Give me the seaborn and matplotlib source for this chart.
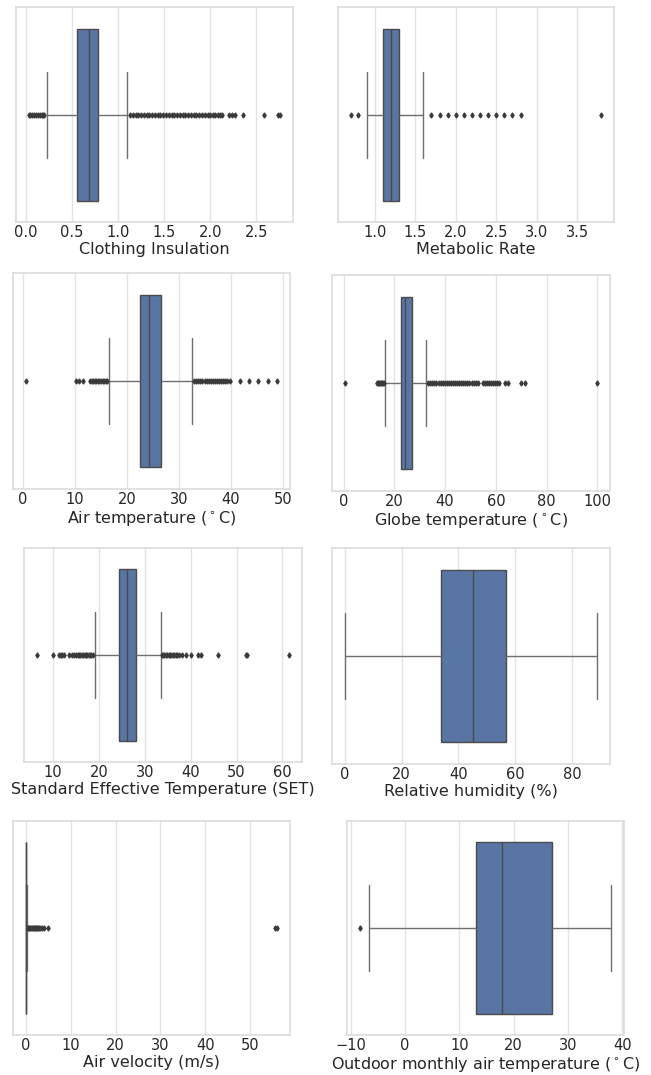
import numpy as np
import matplotlib
matplotlib.use("Agg")
import matplotlib.pyplot as plt
import matplotlib.ticker as ticker
import seaborn as sns

# box summary per variable: [whisker_lo, q1, median, q3, whisker_hi]
clo_box = [0.23, 0.55, 0.68, 0.78, 1.10]
clo_fliers = [0.03, 0.05, 0.07, 0.09, 0.11, 0.13, 0.15, 0.17, 0.19, 0.20,
              1.13, 1.16, 1.19, 1.22, 1.25, 1.28, 1.31, 1.34, 1.37, 1.40,
              1.43, 1.46, 1.49, 1.52, 1.55, 1.58, 1.61, 1.64, 1.67, 1.70,
              1.73, 1.76, 1.79, 1.82, 1.85, 1.88, 1.91, 1.94, 1.97, 2.00,
              2.03, 2.05, 2.08, 2.11, 2.13, 2.20, 2.24, 2.27, 2.35, 2.58,
              2.73, 2.76]

met_box = [0.90, 1.10, 1.20, 1.30, 1.598]
met_fliers = [0.70, 0.79, 1.70, 1.80, 1.90, 2.00, 2.10, 2.20, 2.30, 2.40,
              2.50, 2.60, 2.70, 2.80, 3.80]

ta_box = [16.5, 22.5, 24.3, 26.6, 32.5]
ta_fliers = [0.5, 10.1, 10.8, 11.6, 12.9, 13.2, 13.5, 13.8, 14.1, 14.4,
             14.7, 15.0, 15.3, 15.6, 15.9, 16.2,
             32.9, 33.3, 33.7, 34.1, 34.5, 34.9, 35.3, 35.7, 36.1, 36.5,
             36.9, 37.3, 37.7, 38.1, 38.5, 38.9, 39.3, 39.7,
             41.8, 43.4, 45.2, 47.1, 48.9]

tg_box = [16.4, 22.5, 24.3, 26.8, 32.6]
tg_fliers = [0.4, 13.2, 13.6, 14.0, 14.4, 14.8, 15.2, 15.6, 15.9,
             33.4, 34.2, 35.0, 35.8, 36.6, 37.4, 38.2, 39.0, 39.8, 40.6,
             41.4, 42.2, 43.0, 43.8, 44.6, 45.4, 46.2, 47.0, 47.8, 48.6,
             49.4, 50.5, 51.3, 52.0, 53.0, 55.0, 55.8, 56.6, 57.4, 58.2,
             59.0, 59.8, 60.6, 61.4, 63.5, 64.6, 70.0, 71.6, 100.0]

set_box = [19.1, 24.4, 26.2, 28.05, 33.5]
set_fliers = [6.45, 10.0, 11.4, 11.7, 12.0, 12.4, 13.5, 14.1, 14.6,
              15.1, 15.4, 15.7, 16.0, 16.3, 16.6, 16.9, 17.2, 17.5, 17.8,
              18.1, 18.4, 18.7,
              33.7, 34.0, 34.3, 34.6, 34.9, 35.2, 35.5, 35.8, 36.1, 36.4,
              36.7, 37.0, 37.5, 38.1, 39.0, 40.1, 41.5, 42.2, 45.9, 52.0,
              52.2, 61.5]

rh_box = [0.0, 33.7, 45.0, 56.8, 88.8]
rh_fliers = []

vel_box = [0.0, 0.05, 0.10, 0.20, 0.42]
vel_fliers = [0.45, 0.6, 0.8, 1.0, 1.2, 1.4, 1.6, 1.8, 2.0, 2.2, 2.4, 2.6,
              2.8, 3.0, 3.3, 3.6, 4.0, 5.0, 55.4, 56.0]

tout_box = [-6.7, 13.0, 17.9, 27.0, 38.0]
tout_fliers = [-8.4]

labels = ["Clothing Insulation", "Metabolic Rate",
          "Air temperature ($^\\circ$C)", "Globe temperature ($^\\circ$C)",
          "Standard Effective Temperature (SET)", "Relative humidity (%)",
          "Air velocity (m/s)", "Outdoor monthly air temperature ($^\\circ$C)"]
tick_steps = [0.5, 0.5, 10, 20, 10, 20, 10, 10]
boxes = [clo_box, met_box, ta_box, tg_box, set_box, rh_box, vel_box, tout_box]
fliers = [clo_fliers, met_fliers, ta_fliers, tg_fliers, set_fliers, rh_fliers,
          vel_fliers, tout_fliers]

# axes rectangles in pixels (left, top, right, bottom)
rects = [(16, 7, 293, 222), (338, 7, 614, 222),
         (13, 273, 290, 489), (332, 275, 610, 491),
         (24, 548, 302, 762), (332, 548, 610, 764),
         (13, 821, 290, 1035), (347, 821, 624, 1035)]

W, H = 651, 1075
REPEAT = 500


def expand(box, out):
    # whiskers once, quartile values weighted so the percentiles land on them
    core = np.repeat(box, [1, REPEAT, REPEAT, REPEAT, 1])
    return np.concatenate([np.array(out, dtype=float), core])


sns.set_theme(style="whitegrid")
plt.rcParams["font.family"] = ["DejaVu Sans"]

fig = plt.figure(figsize=(W / 100, H / 100), dpi=100)

for box, out, label, step, (l, t, r, b) in zip(boxes, fliers, labels,
                                                 tick_steps, rects):
    ax = fig.add_axes([l / W, 1 - b / H, (r - l) / W, (b - t) / H])
    sns.boxplot(x=expand(box, out), ax=ax, color="#4c72b0", linewidth=1,
                linecolor="#4a4a4a", fliersize=2.6,
                flierprops={"marker": "d", "markerfacecolor": "#3a3a3a",
                            "markeredgecolor": "#3a3a3a"},
                whiskerprops={"color": "#6e6e6e"},
                capprops={"color": "#6e6e6e"})
    ax.xaxis.set_major_locator(ticker.MultipleLocator(step))
    ax.set_xlabel(label, fontsize=11.5, color="#262626", labelpad=1.5)
    ax.tick_params(axis="x", labelsize=10.5, pad=2, length=0,
                   colors="#262626")
    ax.grid(axis="x", color="#e3e3e3")
    for s in ax.spines.values():
        s.set_color("#dddddd")

fig.savefig("out.png", dpi=100)
